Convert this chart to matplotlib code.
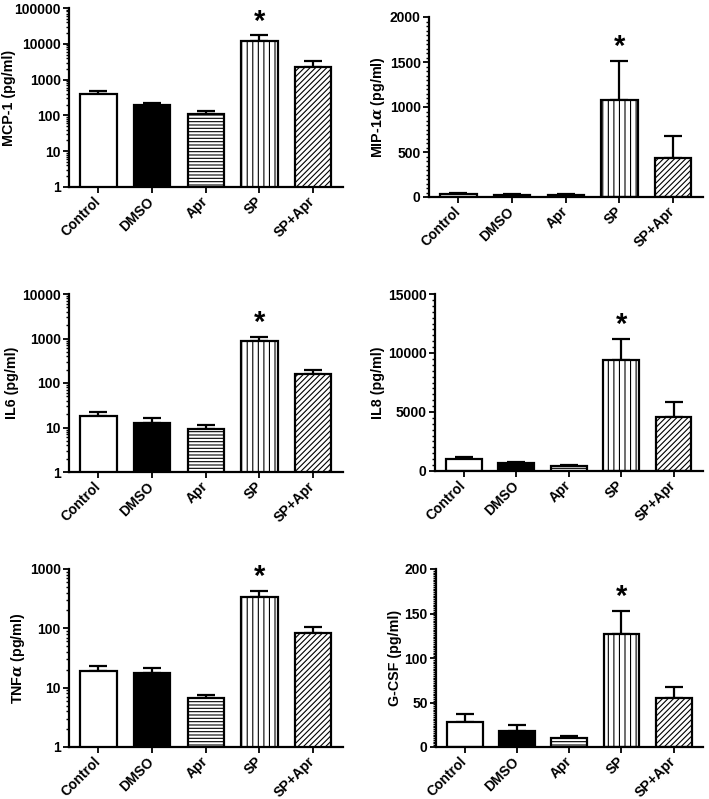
import matplotlib
matplotlib.use("Agg")
import matplotlib.pyplot as plt
from matplotlib.ticker import FixedLocator, FixedFormatter, MultipleLocator, LogLocator, NullFormatter

plt.rcParams['font.family'] = ['Liberation Sans', 'DejaVu Sans']
plt.rcParams['font.weight'] = 'bold'
plt.rcParams['hatch.linewidth'] = 0.8
plt.rcParams['hatch.color'] = 'black'
plt.rcParams['mathtext.fontset'] = 'custom'
plt.rcParams['mathtext.it'] = 'DejaVu Serif:italic'

groups = ["Control", "DMSO", "Apr", "SP", "SP+Apr"]

mcp1_mean = [385, 190, 112, 12100, 2280]
mcp1_err = [90, 32, 21, 5000, 1050]
mcp1_ticks = [1, 10, 100, 1000, 10000, 100000]

mip1a_mean = [35, 25, 25, 1075, 433]
mip1a_err = [12, 6, 6, 440, 245]
mip1a_ticks = [0, 500, 1000, 1500, 2000]

il6_mean = [17.7, 12.6, 9.1, 880, 158]
il6_err = [4.3, 3.4, 2.0, 220, 37]
il6_ticks = [1, 10, 100, 1000, 10000]

il8_mean = [1050, 680, 430, 9400, 4600]
il8_err = [170, 90, 80, 1780, 1240]
il8_ticks = [0, 5000, 10000, 15000]

tnfa_mean = [19.0, 17.4, 6.8, 335, 85]
tnfa_err = [4.4, 4.2, 0.6, 98, 22]
tnfa_ticks = [1, 10, 100, 1000]

gcsf_mean = [28.5, 18.5, 10.0, 127, 54.5]
gcsf_err = [9.0, 6.5, 2.0, 26, 12.5]
gcsf_ticks = [0, 50, 100, 150, 200]

significant = "*"

W, H = 709, 799
fig = plt.figure(figsize=(W / 100, H / 100), dpi=100)

def px_axes(l, t, r, b):
    return fig.add_axes([l / W, 1 - b / H, (r - l) / W, (b - t) / H])

fills = ['white', 'black', 'white', 'white', 'white']
hatches = ['', '', '-----', '|||', '//////']

# (axes, mean, err, ticks, scale, ylabel, minor step, ylabel right edge in px)
panels = [
    (px_axes(69, 8, 343, 187), mcp1_mean, mcp1_err, mcp1_ticks, 'log', 'MCP-1 (pg/ml)', None, 16),
    (px_axes(429, 17, 703, 197), mip1a_mean, mip1a_err, mip1a_ticks, 'lin', r'MIP-1$\mathit{\alpha}$ (pg/ml)', 50, None),
    (px_axes(69, 294, 343, 472), il6_mean, il6_err, il6_ticks, 'log', 'IL6 (pg/ml)', None, None),
    (px_axes(435, 294, 703, 471), il8_mean, il8_err, il8_ticks, 'lin', 'IL8 (pg/ml)', 500, None),
    (px_axes(69, 569, 343, 747), tnfa_mean, tnfa_err, tnfa_ticks, 'log', r'TNF$\mathit{\alpha}$ (pg/ml)', None, None),
    (px_axes(436, 569, 703, 747), gcsf_mean, gcsf_err, gcsf_ticks, 'lin', 'G-CSF (pg/ml)', 2, None),
]

x = list(range(len(groups)))
for ax, mean, err, ticks, scale, label, minor, lab_x in panels:
    if scale == 'log':
        ax.set_yscale('log')
    ax.bar(x, mean, width=0.68, color=fills, edgecolor='black', linewidth=1.6, zorder=2)
    for bar, h in zip(ax.patches, hatches):
        bar.set_hatch(h)
    ax.errorbar(x, mean, yerr=[[0] * len(err), err], fmt='none', ecolor='black',
                elinewidth=1.6, capsize=6.5, capthick=1.6, zorder=1)
    ax.set_xlim(-0.55, 4.56)
    ax.set_ylim(ticks[0], ticks[-1])
    ax.yaxis.set_major_locator(FixedLocator(ticks))
    ax.yaxis.set_major_formatter(FixedFormatter([str(t) for t in ticks]))
    if scale == 'log':
        ax.yaxis.set_minor_locator(LogLocator(base=10, subs=range(2, 10)))
        ax.yaxis.set_minor_formatter(NullFormatter())
    else:
        ax.yaxis.set_minor_locator(MultipleLocator(minor))
    ax.set_xticks(x)
    ax.set_xticklabels(groups, rotation=45, ha='right', va='center',
                       rotation_mode='anchor', fontsize=9.3, fontweight='bold')
    ax.tick_params(axis='both', which='major', direction='out', length=4, width=1.3,
                   labelsize=10, pad=2)
    ax.tick_params(axis='y', which='minor', direction='out', length=2, width=1.0)
    ax.tick_params(axis='x', which='major', pad=5)
    for s in ['top', 'right']:
        ax.spines[s].set_visible(False)
    for s in ['left', 'bottom']:
        ax.spines[s].set_linewidth(1.6)
    ax.set_ylabel(label, fontsize=10.3, fontweight='bold', labelpad=2)
    if lab_x is not None:
        pos = ax.get_position()
        ax.yaxis.set_label_coords((lab_x / W - pos.x0) / pos.width, 0.5)
    ax.annotate(significant, xy=(3, mean[3] + err[3]), xytext=(0, 0),
                textcoords='offset points', ha='center', va='bottom',
                fontsize=21, fontweight='bold')

fig.savefig('out.png', dpi=100)
